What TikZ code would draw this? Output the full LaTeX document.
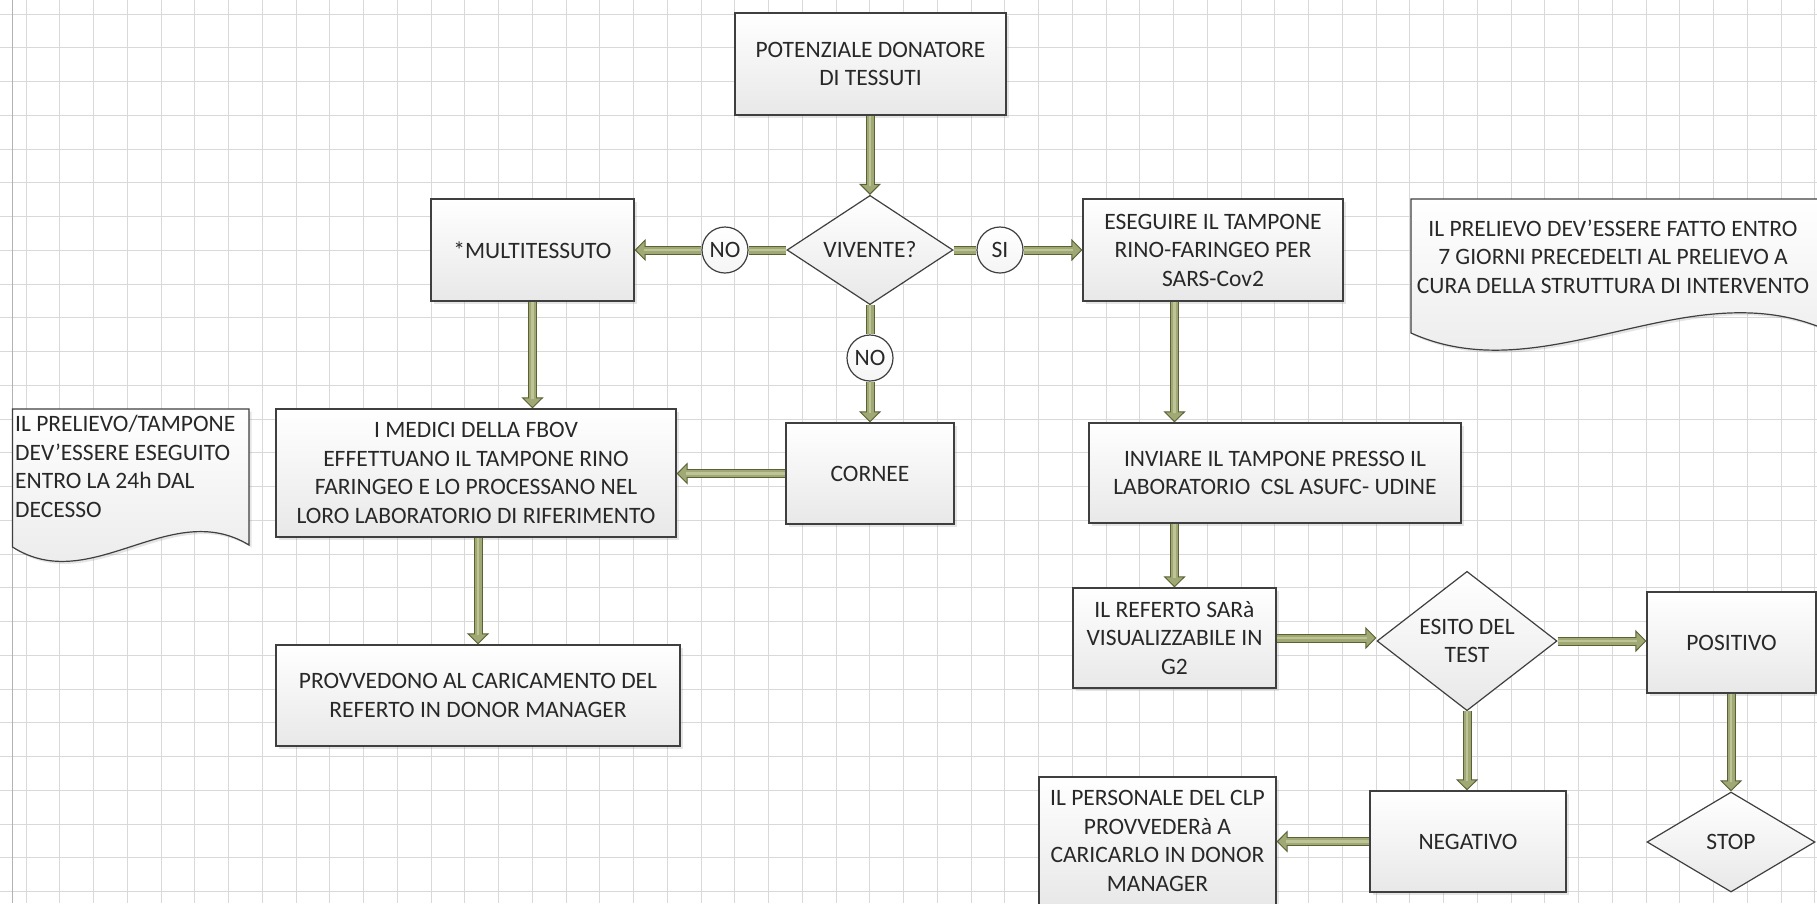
\documentclass[tikz,border=0pt]{standalone}
\usepackage{fontspec}
\setmainfont{Carlito}
\usetikzlibrary{arrows.meta,shapes.geometric,shadows,calc}
\definecolor{gridc}{HTML}{D9D9D9}
\definecolor{boxline}{HTML}{3F3F3F}
\definecolor{txt}{HTML}{282828}
\definecolor{cdark}{HTML}{5B6135}
\definecolor{cfill}{HTML}{A0A874}
\definecolor{clight}{HTML}{BEC497}
\definecolor{boxbot}{HTML}{E8E8E8}
\tikzset{
  gridl/.style={draw=gridc, line width=0.9pt},
  base/.style={draw=boxline, line width=1.2pt, top color=white, bottom color=boxbot,
    text=txt, font=\fontsize{23.5}{28.5}\selectfont, align=center, inner sep=0pt},
  shad/.style={drop shadow={opacity=0.2, shadow xshift=2.5pt, shadow yshift=-2.5pt}},
  box/.style 2 args={base, shad, rectangle, minimum width=#1, minimum height=#2},
  diam/.style 2 args={base, diamond, minimum width=#1, minimum height=#2},
  lbl/.style={base, circle, minimum size=46pt, bottom color=gray!8},
  notestyle/.style={draw=boxline, line width=1.2pt, top color=white, bottom color=boxbot, shad},
  notetext/.style={text=txt, font=\fontsize{23.5}{28.5}\selectfont, inner sep=0pt},
  conn/.style={line width=9pt, draw=cdark,
    -{Triangle[length=11pt,width=22pt,fill=cfill,line width=1pt]},
    postaction={draw=cfill, line width=7pt, shorten >=6pt, -},
    postaction={draw=clight, line width=2.5pt, shorten >=9pt, -}},
  connl/.style={line width=9pt, draw=cdark,
    postaction={draw=cfill, line width=7pt},
    postaction={draw=clight, line width=2.5pt}},
}
\begin{document}
\begin{tikzpicture}[x=1pt, y=-1pt]
\useasboundingbox (0,0) rectangle (1817,903);
\clip (0,0) rectangle (1817,903);
\fill[white] (0,0) rectangle (1817,903);
% grid
\foreach \i in {0,...,53} \draw[gridl] ({26+33.75*\i},0) -- ({26+33.75*\i},903);
\foreach \j in {0,...,26} \draw[gridl] (0,{14+33.75*\j}) -- (1817,{14+33.75*\j});
\draw[gridl, draw=gray!60] (12.7,0) -- (12.7,903);

% notes
\draw[notestyle] (12.5,409) -- (249,409) -- (249,545) .. controls (170,497) and (91,597) .. (12.5,547) -- cycle;
\node[notetext, align=left, anchor=north west] (lnote) at (15,415)
  {IL PRELIEVO/TAMPONE\\DEV’ESSERE ESEGUITO\\ENTRO LA 24h DAL\\DECESSO};
\draw[notestyle] (1411,199) -- (1822,199) -- (1822,328) .. controls (1685,272) and (1544,393) .. (1411,333) -- cycle;
\node[notetext, align=center] (rnote) at (1613,256.5)
  {IL PRELIEVO DEV’ESSERE FATTO ENTRO\\7 GIORNI PRECEDELTI AL PRELIEVO A\\CURA DELLA STRUTTURA DI INTERVENTO};

% nodes
\node[box={271pt}{102pt}] (pot) at (870.5,64) {POTENZIALE DONATORE\\DI TESSUTI};
\node[diam={166pt}{101pt}] (viv) at (870,250) {VIVENTE?};
\node[lbl] (no1) at (725,250) {NO};
\node[lbl] (si) at (1000,250) {SI};
\node[lbl] (no2) at (870,358) {NO};
\node[box={203pt}{102pt}] (multi) at (532.5,250) {*MULTITESSUTO};
\node[box={260pt}{102pt}] (eseg) at (1213,250) {ESEGUIRE IL TAMPONE\\RINO-FARINGEO PER\\SARS-Cov2};
\node[box={168pt}{101pt}] (cornee) at (870,473.5) {CORNEE};
\node[box={400pt}{128pt}] (medici) at (476,473) {I MEDICI DELLA FBOV\\EFFETTUANO IL TAMPONE RINO\\FARINGEO E LO PROCESSANO NEL\\LORO LABORATORIO DI RIFERIMENTO};
\node[box={404pt}{101pt}] (provv) at (478,695.5) {PROVVEDONO AL CARICAMENTO DEL\\REFERTO IN DONOR MANAGER};
\node[box={372pt}{100pt}] (inviare) at (1275,473) {INVIARE IL TAMPONE PRESSO IL\\LABORATORIO \ CSL ASUFC- UDINE};
\node[box={203pt}{100pt}] (referto) at (1174.5,638) {IL REFERTO SARà\\VISUALIZZABILE IN\\G2};
\node[diam={180pt}{122pt}] (esito) at (1467,641) {ESITO DEL\\TEST};
\node[box={169pt}{101pt}] (pos) at (1731.5,642.5) {POSITIVO};
\node[diam={168pt}{100pt}] (stop) at (1731,842) {STOP};
\node[box={196pt}{101pt}] (neg) at (1468,841.5) {NEGATIVO};
\node[box={237pt}{128pt}] (clp) at (1157.5,841) {IL PERSONALE DEL CLP\\PROVVEDERà A\\CARICARLO IN DONOR\\MANAGER};

% connectors
\draw[conn] (pot.south -| viv.north) -- (viv.north);
\draw[connl] (viv.west) -- (no1.east);
\draw[conn] (no1.west) -- (multi.east |- no1.west);
\draw[connl] (viv.east) -- (si.west);
\draw[conn] (si.east) -- (eseg.west |- si.east);
\draw[connl] (viv.south) -- (no2.north);
\draw[conn] (no2.south) -- (cornee.north);
\draw[conn] (multi.south) -- (multi.south |- medici.north);
\draw[conn] (cornee.west) -- (medici.east |- cornee.west);
\draw[conn] (provv.north |- medici.south) -- (provv.north);
\draw[conn] (eseg.south -| referto.north) -- (inviare.north -| referto.north);
\draw[conn] (inviare.south -| referto.north) -- (referto.north);
\draw[conn] (referto.east) -- (esito.west |- referto.east);
\draw[conn] (esito.east) -- (pos.west |- esito.east);
\draw[conn] (pos.south -| stop.north) -- (stop.north);
\draw[conn] (esito.south) -- (neg.north -| esito.south);
\draw[conn] (neg.west) -- (clp.east |- neg.west);
\end{tikzpicture}
\end{document}
